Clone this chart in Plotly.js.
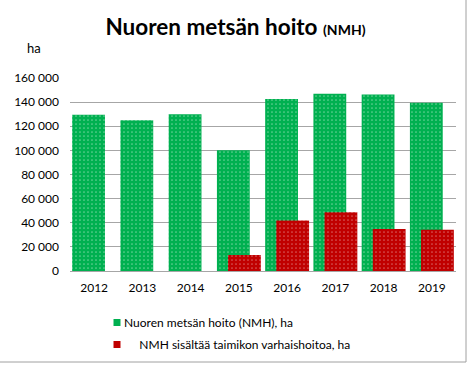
<!DOCTYPE html>
<html><head><meta charset="utf-8">
<script src="https://cdn.plot.ly/plotly-3.0.1.min.js"></script>
<style>html,body{margin:0;padding:0;background:#fff}</style>
</head><body>
<div id="chart" style="width:471px;height:365px"></div>
<script>
const years = ['2012','2013','2014','2015','2016','2017','2018','2019'];
const nmhTotal = [129500, 125000, 130000, 100000, 142500, 147000, 146300, 139400];
const earlyYears = ['2015','2016','2017','2018','2019'];
const earlyCare = [13300, 41800, 48700, 34900, 34300];
const seriesNames = ['Nuoren metsän hoito (NMH), ha', '\u00A0\u00A0\u00A0\u00A0 NMH sisältää taimikon varhaishoitoa, ha'];
const colors = ['#00B050', '#C00000'];

const font = 'Lato, "Open Sans", sans-serif';
const traces = [
  {type:'bar', x: years, y: nmhTotal, name: seriesNames[0], showlegend:false,
   offset:-0.455, width:0.68,
   marker:{color:colors[0], line:{width:0},
     pattern:{shape:'.', fgcolor:'rgba(255,255,255,0.4)', bgcolor:colors[0], size:4, solidity:0.15}}},
  {type:'bar', x: earlyYears, y: earlyCare, name: seriesNames[1], showlegend:false,
   offset:-0.225, width:0.68,
   marker:{color:colors[1], line:{width:0},
     pattern:{shape:'.', fgcolor:'rgba(255,255,255,0.36)', bgcolor:colors[1], size:4, solidity:0.15}}},
  // legend entries
  {type:'scatter', mode:'markers', x:[null], y:[null], name: seriesNames[0], legendgroup:'a',
   marker:{symbol:'square', size:7, color:colors[0]}},
  {type:'scatter', mode:'markers', x:[null], y:[null], name: seriesNames[1], legendgroup:'b',
   marker:{symbol:'square', size:7, color:colors[1]}}
];
const layout = {
  width:471, height:365,
  margin:{l:70, r:15, t:78, b:94},
  barmode:'overlay',
  separators:', ',
  paper_bgcolor:'#fff', plot_bgcolor:'#fff',
  font:{family:font, size:12, color:'#000'},
  title:{text:'<b>Nuoren metsän hoito <span style="font-size:14px">(NMH)</span></b>',
    font:{family:font, size:22.5, color:'#000'}, x:0.5, xanchor:'center', y:0.925, yanchor:'middle'},
  xaxis:{type:'category', categoryorder:'array', categoryarray: years,
    showgrid:false, showline:false, zeroline:false, ticks:'', ticklabelstandoff:8,
    tickfont:{size:12, family:font}, range:[-0.5, 7.5], fixedrange:true},
  yaxis:{range:[0,160000], dtick:20000, tickformat:',d', showgrid:true, gridcolor:'#A6A6A6', gridwidth:1,
    zeroline:true, zerolinecolor:'#A6A6A6', showline:false, ticks:'', ticklabelstandoff:10,
    tickfont:{size:12, family:font}, fixedrange:true},
  showlegend:true,
  legend:{x:(84-70)/386, xref:'paper', xanchor:'left', y:1-308/365, yref:'container', yanchor:'top', orientation:'v',
    traceorder:'grouped', tracegroupgap:3, font:{size:12, family:font}, bgcolor:'rgba(0,0,0,0)'},
  annotations:[{text:'ha', xref:'paper', yref:'paper', x:(25-70)/386, y:(271-48)/193,
    xanchor:'left', yanchor:'middle', showarrow:false, font:{size:13, family:font}}],
  shapes:[
    {type:'line', xref:'paper', yref:'paper', x0:(466-70)/386, x1:(466-70)/386, y0:(271-0)/193, y1:(271-362)/193, line:{color:'#A0A0A0', width:1}},
    {type:'line', xref:'paper', yref:'paper', x0:(0-70)/386, x1:(466-70)/386, y0:(271-362)/193, y1:(271-362)/193, line:{color:'#A0A0A0', width:1}}
  ]
};
Plotly.newPlot('chart', traces, layout, {displayModeBar:false, staticPlot:true}).then(function(gd){
  // bring legend swatches closer to their labels, as in the original
  gd.querySelectorAll('.legend .traces .legendpoints').forEach(function(el){
    el.setAttribute('transform', 'translate(13,0)');
  });
});
</script>
</body></html>
